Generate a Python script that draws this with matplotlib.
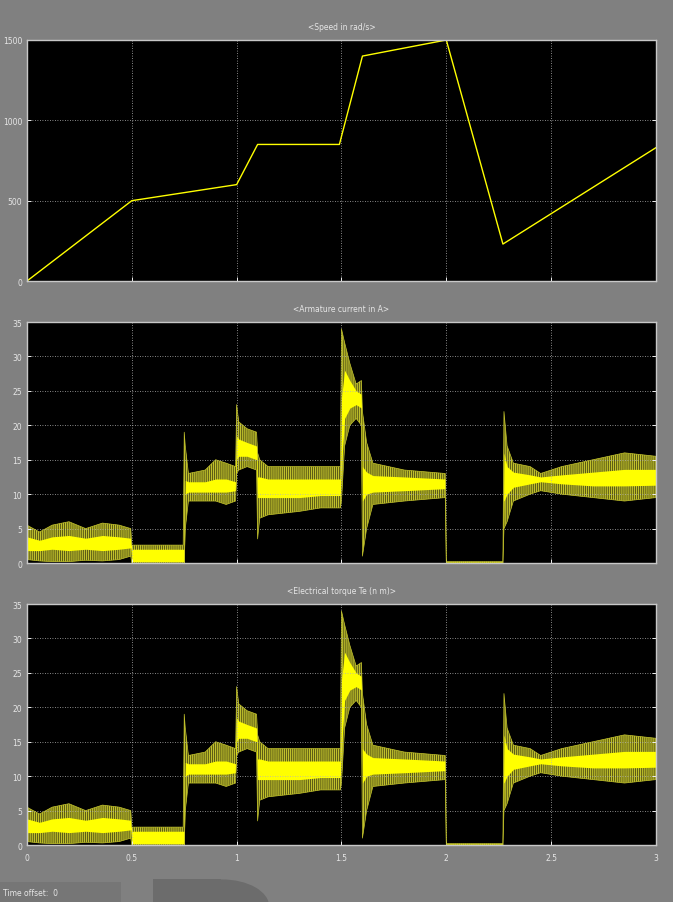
import matplotlib.pyplot as plt
from matplotlib.patches import Rectangle, Ellipse

# speed trace (rad/s)
speed_t = [0.0, 0.5, 1.0, 1.10, 1.49, 1.60, 2.0, 2.27, 3.0]
speed_w = [0, 500, 600, 850, 850, 1400, 1500, 230, 830]

# armature current: noisy band, outer (dim) and core (bright) envelopes
cur_t = [0.000, 0.060, 0.120, 0.200, 0.280, 0.360, 0.440, 0.495,
         0.500, 0.745, 0.750, 0.755, 0.770, 0.850, 0.900, 0.950, 0.995,
         1.000, 1.010, 1.050, 1.095, 1.100, 1.110, 1.150, 1.300, 1.400, 1.495,
         1.500, 1.515, 1.540, 1.570, 1.595, 1.600, 1.620, 1.650, 1.800, 1.995,
         2.000, 2.270, 2.275, 2.290, 2.320, 2.400, 2.450, 2.550, 2.700, 2.850, 3.000]
cur_lo = [0.5, 0.3, 0.2, 0.2, 0.4, 0.3, 0.5, 1.0,
          0.0, 0.0, 0.0, 5.0, 9.0, 9.0, 9.0, 8.5, 9.0,
          13.0, 13.5, 14.0, 13.5, 3.5, 6.5, 7.0, 7.5, 8.0, 8.0,
          9.0, 17.0, 20.0, 21.0, 20.0, 1.0, 5.0, 8.5, 9.0, 9.5,
          0.0, 0.0, 5.0, 6.0, 9.0, 10.0, 10.5, 10.0, 9.5, 9.0, 9.5]
cur_hi = [5.5, 4.5, 5.5, 6.0, 5.0, 5.8, 5.5, 5.0,
          2.6, 2.6, 19.0, 17.0, 13.0, 13.5, 15.0, 14.5, 14.0,
          23.0, 20.5, 19.5, 19.0, 16.0, 15.0, 14.0, 14.0, 14.0, 14.0,
          34.0, 32.0, 29.0, 26.0, 26.5, 22.0, 17.5, 14.5, 13.5, 13.0,
          0.2, 0.2, 22.0, 17.0, 14.5, 14.0, 13.0, 14.0, 15.0, 16.0, 15.5]
cur_core_lo = [1.8, 1.8, 2.0, 1.8, 2.0, 1.8, 2.0, 2.2,
               0.2, 0.2, 0.0, 10.0, 10.3, 10.3, 10.3, 10.3, 10.5,
               15.0, 15.5, 15.5, 15.0, 9.5, 9.5, 9.5, 9.5, 9.8, 9.8,
               14.0, 21.0, 22.5, 23.0, 22.5, 9.0, 10.0, 10.3, 10.5, 10.8,
               0.0, 0.0, 9.0, 10.0, 11.0, 11.5, 11.8, 11.5, 11.2, 11.2, 11.3]
cur_core_hi = [3.8, 3.3, 3.8, 4.0, 3.6, 4.0, 3.8, 3.6,
               2.0, 2.0, 2.0, 12.0, 11.8, 11.8, 12.2, 12.2, 11.8,
               18.5, 18.0, 17.5, 17.0, 12.5, 12.5, 12.2, 12.2, 12.2, 12.2,
               24.0, 28.0, 26.5, 25.0, 24.5, 14.0, 13.2, 12.7, 12.5, 12.2,
               0.15, 0.15, 16.0, 14.0, 13.2, 12.8, 12.5, 12.8, 13.2, 13.6, 13.6]

# electrical torque looks the same as the current trace
torque_lo, torque_hi = cur_lo, cur_hi
torque_core_lo, torque_core_hi = cur_core_lo, cur_core_hi

titles = ["<Speed in rad/s>", "<Armature current in A>", "<Electrical torque Te (n m)>"]
x_ticks = [0, 0.5, 1, 1.5, 2, 2.5, 3]
x_labels = ["0", "0.5", "1", "1.5", "2", "2.5", "3"]

BG = "#808080"
YEL = "#ffff00"
DIM = "#c0c02c"
TXT = "#e6e6e6"

plt.rcParams["hatch.linewidth"] = 0.9

fig = plt.figure(figsize=(6.73, 9.03), dpi=100, facecolor=BG)

left, width, height = 0.0401, 0.9346, 0.2669
bottoms = [0.6877, 0.3754, 0.0631]
axes = []
for b in bottoms:
    ax = fig.add_axes([left, b, width, height], facecolor="black")
    axes.append(ax)


def style(ax, title, yticks, ymax, show_x):
    ax.set_xlim(0, 3)
    ax.set_ylim(0, ymax)
    ax.set_xticks(x_ticks)
    ax.set_yticks(yticks)
    ax.set_yticklabels([str(v) for v in yticks])
    if show_x:
        ax.set_xticklabels(x_labels)
    else:
        ax.set_xticklabels([])
    ax.grid(True, color="#b4b4b4", linestyle=(0, (1, 2)), linewidth=0.6)
    ax.tick_params(axis="both", colors="#f0f0f0", labelcolor=TXT, labelsize=5.5,
                   direction="in", length=3, width=0.7, right=True, top=False)
    ax.tick_params(axis="x", pad=6)
    for s in ax.spines.values():
        s.set_color("#c8c8c8")
        s.set_linewidth(1.0)
    ax.set_title(title, color=TXT, fontsize=5.5, pad=8)


def noisy_band(ax, lo, hi, core_lo, core_hi):
    ax.fill_between(cur_t, lo, hi, facecolor="#4a4a10", edgecolor=DIM,
                    hatch="||||||||", lw=0)
    ax.plot(cur_t, hi, color=DIM, lw=0.5)
    ax.plot(cur_t, lo, color=DIM, lw=0.5)
    ax.fill_between(cur_t, core_lo, core_hi, color=YEL, lw=0)


ax1, ax2, ax3 = axes
ax1.plot(speed_t, speed_w, color=YEL, lw=1.0)
style(ax1, titles[0], [0, 500, 1000, 1500], 1500, False)

noisy_band(ax2, cur_lo, cur_hi, cur_core_lo, cur_core_hi)
style(ax2, titles[1], [0, 5, 10, 15, 20, 25, 30, 35], 35, False)

noisy_band(ax3, torque_lo, torque_hi, torque_core_lo, torque_core_hi)
style(ax3, titles[2], [0, 5, 10, 15, 20, 25, 30, 35], 35, True)

# darker window shapes along the bottom edge
fig.patches.append(Rectangle((0.0, 0.0), 0.18, 0.022, transform=fig.transFigure,
                             facecolor="#767676", edgecolor="none"))
fig.patches.append(Ellipse((0.33, -0.005), 0.14, 0.06, transform=fig.transFigure,
                           facecolor="#6c6c6c", edgecolor="none"))
fig.patches.append(Rectangle((0.228, 0.0), 0.10, 0.025, transform=fig.transFigure,
                             facecolor="#6c6c6c", edgecolor="none"))
fig.text(0.004, 0.011, "Time offset:  0", color=TXT, fontsize=5.5, va="center")

fig.savefig("out.png", dpi=100, facecolor=BG)
